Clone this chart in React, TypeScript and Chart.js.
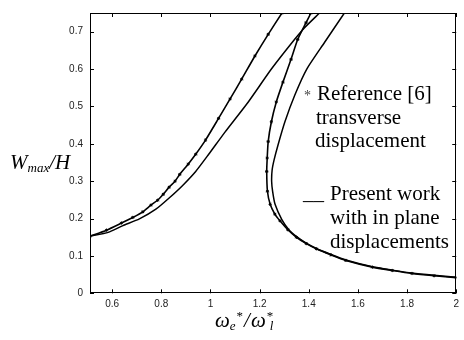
import React, { useEffect, useRef } from "react";
import { Chart, registerables } from "chart.js";

Chart.register(...registerables);

// Axis ranges and tick labels
const xMin = 0.51;
const xMax = 2;
const yMin = 0;
const yMax = 0.75;
const xTicks = [0.6, 0.8, 1, 1.2, 1.4, 1.6, 1.8, 2];
const yTicks = [0, 0.1, 0.2, 0.3, 0.4, 0.5, 0.6, 0.7];

// Reference [6] (transverse displacement) - marked curve, left branch
const refLeftX = [0.51, 0.577, 0.638, 0.684, 0.725, 0.758, 0.785, 0.808, 0.832, 0.856, 0.875, 0.91, 0.94, 0.98, 1.033, 1.08, 1.127, 1.181, 1.235, 1.291];
const refLeftY = [0.153, 0.169, 0.188, 0.203, 0.218, 0.236, 0.249, 0.265, 0.284, 0.3, 0.318, 0.346, 0.372, 0.41, 0.468, 0.52, 0.573, 0.635, 0.693, 0.75];

// Reference [6] right (folded) branch
const refRightX = [1.409, 1.389, 1.355, 1.328, 1.295, 1.268, 1.248, 1.235, 1.231, 1.229, 1.232, 1.243, 1.262, 1.283, 1.315, 1.35, 1.39, 1.431, 1.49, 1.551, 1.659, 1.74, 1.82, 1.91, 2.0];
const refRightY = [0.75, 0.724, 0.679, 0.626, 0.565, 0.512, 0.459, 0.406, 0.362, 0.326, 0.273, 0.238, 0.212, 0.194, 0.17, 0.15, 0.133, 0.119, 0.103, 0.088, 0.07, 0.061, 0.053, 0.047, 0.042];

// Present work (with in-plane displacements) - left branch
const presLeftX = [0.51, 0.584, 0.644, 0.711, 0.778, 0.832, 0.886, 0.94, 0.993, 1.06, 1.154, 1.248, 1.342, 1.382, 1.444];
const presLeftY = [0.153, 0.163, 0.181, 0.199, 0.225, 0.255, 0.288, 0.326, 0.372, 0.432, 0.512, 0.6, 0.679, 0.71, 0.75];

// Present work - right (folded) branch
const presRightX = [1.545, 1.464, 1.392, 1.343, 1.303, 1.275, 1.259, 1.251, 1.249, 1.253, 1.263, 1.29, 1.318, 1.352, 1.39, 1.431, 1.49, 1.551, 1.659, 1.74, 1.82, 1.91, 2.0];
const presRightY = [0.75, 0.671, 0.6, 0.53, 0.459, 0.397, 0.357, 0.33, 0.3, 0.273, 0.238, 0.198, 0.171, 0.151, 0.134, 0.12, 0.104, 0.089, 0.071, 0.062, 0.054, 0.048, 0.043];

const toPts = (xs: number[], ys: number[]) => xs.map((x, i) => ({ x, y: ys[i] }));

const SERIF = '"Liberation Serif", "Times New Roman", serif';

const framePlugin = {
  id: "frameAndText",
  afterDraw(chart: any) {
    const { ctx, chartArea, scales } = chart;
    const { left, right, top, bottom } = chartArea;
    ctx.save();
    ctx.strokeStyle = "#000";
    ctx.lineWidth = 1;
    ctx.strokeRect(Math.round(left) + 0.5, Math.round(top) + 0.5, Math.round(right - left) - 1, Math.round(bottom - top) - 1);
    const tl = 4;
    ctx.beginPath();
    xTicks.forEach((v) => {
      const px = Math.round(scales.x.getPixelForValue(v)) + 0.5;
      ctx.moveTo(px, bottom);
      ctx.lineTo(px, bottom - tl);
      ctx.moveTo(px, top);
      ctx.lineTo(px, top + tl);
    });
    yTicks.forEach((v) => {
      const py = Math.round(scales.y.getPixelForValue(v)) + 0.5;
      ctx.moveTo(left, py);
      ctx.lineTo(left + tl, py);
      ctx.moveTo(right, py);
      ctx.lineTo(right - tl, py);
    });
    ctx.stroke();

    // Annotations
    ctx.textBaseline = "alphabetic";
    ctx.textAlign = "left";
    ctx.font = `14px ${SERIF}`;
    ctx.fillStyle = "#444";
    ctx.fillText("*", 304, 100);
    ctx.fillStyle = "#000";
    ctx.font = `21px ${SERIF}`;
    ctx.fillText("Reference [6]", 317, 100);
    ctx.fillText("transverse", 316, 124);
    ctx.fillText("displacement", 315, 147);
    ctx.fillText("__", 303, 199);
    ctx.fillText("Present work", 330, 200);
    ctx.fillText("with in plane", 330, 224);
    ctx.fillText("displacements", 330, 248);

    // Y axis label: W_max/H
    let x = 10;
    const yb = 169;
    ctx.font = `italic 21px ${SERIF}`;
    ctx.fillText("W", x, yb);
    x += ctx.measureText("W").width;
    ctx.font = `italic 13px ${SERIF}`;
    ctx.fillText("max", x, yb + 3);
    x += ctx.measureText("max").width;
    ctx.font = `italic 21px ${SERIF}`;
    ctx.fillText("/H", x, yb);

    // X axis label: ω_e* / ω*_l
    x = 215;
    const xb = 326.5;
    ctx.font = `italic 21px ${SERIF}`;
    ctx.fillText("ω", x, xb);
    x += ctx.measureText("ω").width;
    ctx.font = `italic 13px ${SERIF}`;
    ctx.fillText("e", x, xb + 3);
    x += ctx.measureText("e").width + 1;
    ctx.font = `13px ${SERIF}`;
    ctx.fillText("*", x, xb - 7);
    x += ctx.measureText("*").width + 1;
    ctx.font = `italic 21px ${SERIF}`;
    ctx.fillText("/", x, xb);
    x += ctx.measureText("/").width + 1;
    ctx.fillText("ω", x, xb);
    x += ctx.measureText("ω").width + 1;
    ctx.font = `13px ${SERIF}`;
    ctx.fillText("*", x, xb - 7);
    ctx.font = `italic 13px ${SERIF}`;
    ctx.fillText("l", x + 3, xb + 3);
    ctx.restore();
  },
};

export default function App() {
  const canvasRef = useRef<HTMLCanvasElement | null>(null);

  useEffect(() => {
    if (!canvasRef.current) return;
    const refStyle = {
      borderColor: "#000",
      backgroundColor: "#000",
      borderWidth: 1.6,
      pointStyle: "star" as const,
      pointRadius: 1.6,
      pointBorderWidth: 1,
      pointBorderColor: "#000",
      showLine: true,
      tension: 0.2,
      fill: false,
    };
    const presStyle = {
      borderColor: "#000",
      backgroundColor: "#000",
      borderWidth: 1.5,
      pointRadius: 0,
      showLine: true,
      tension: 0.2,
      fill: false,
    };
    const tickFont = { family: '"Liberation Sans", Arial, sans-serif', size: 10 };
    const chart = new Chart(canvasRef.current, {
      type: "scatter",
      data: {
        datasets: [
          { label: "Reference [6] a", data: toPts(refLeftX, refLeftY), ...refStyle },
          { label: "Reference [6] b", data: toPts(refRightX, refRightY), ...refStyle },
          { label: "Present work a", data: toPts(presLeftX, presLeftY), ...presStyle },
          { label: "Present work b", data: toPts(presRightX, presRightY), ...presStyle },
        ],
      },
      options: {
        responsive: false,
        animation: false,
        devicePixelRatio: 1,
        layout: { padding: { left: 0, top: 10, right: 3, bottom: 0 } },
        plugins: { legend: { display: false }, tooltip: { enabled: false } },
        scales: {
          x: {
            type: "linear",
            min: xMin,
            max: xMax,
            afterBuildTicks: (s: any) => {
              s.ticks = xTicks.map((v) => ({ value: v }));
            },
            afterFit: (s: any) => {
              s.height = 46.7;
            },
            grid: { display: false, drawTicks: false },
            border: { display: false },
            ticks: {
              padding: 5,
              font: tickFont,
              color: "#222",
              maxRotation: 0,
              autoSkip: false,
              callback: (v: any) => String(v),
            },
          },
          y: {
            type: "linear",
            min: yMin,
            max: yMax,
            afterBuildTicks: (s: any) => {
              s.ticks = yTicks.map((v) => ({ value: v }));
            },
            afterFit: (s: any) => {
              s.width = 90;
            },
            grid: { display: false, drawTicks: false },
            border: { display: false },
            ticks: {
              padding: 7,
              font: tickFont,
              color: "#222",
              autoSkip: false,
              callback: (v: any) => String(v),
            },
          },
        },
      },
      plugins: [framePlugin],
    } as any);
    return () => chart.destroy();
  }, []);

  return (
    <div style={{ position: "absolute", left: 0, top: 0, width: 464, height: 340, background: "#fff" }}>
      <canvas ref={canvasRef} width={464} height={340} />
    </div>
  );
}
